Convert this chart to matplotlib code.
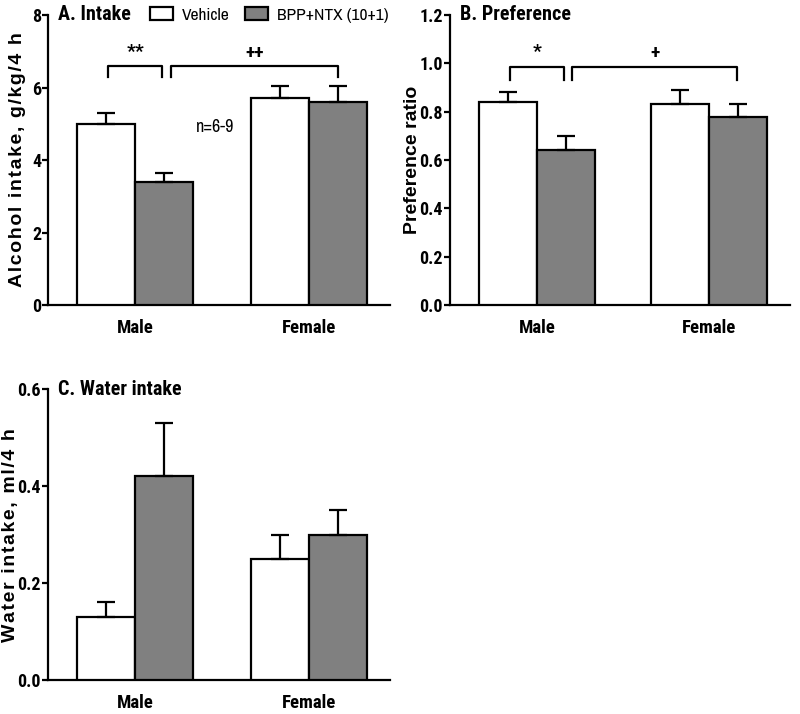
import matplotlib
matplotlib.use("Agg")
import matplotlib.pyplot as plt
from matplotlib.patches import Patch

# --- data ---
groups = ["Male", "Female"]
treatments = ["Vehicle", "BPP+NTX (10+1)"]

intake_veh = [5.0, 5.7]
intake_veh_err = [0.3, 0.33]
intake_bpp = [3.4, 5.6]
intake_bpp_err = [0.25, 0.43]

pref_veh = [0.84, 0.83]
pref_veh_err = [0.04, 0.06]
pref_bpp = [0.64, 0.78]
pref_bpp_err = [0.06, 0.05]

water_veh = [0.13, 0.25]
water_veh_err = [0.03, 0.05]
water_bpp = [0.42, 0.30]
water_bpp_err = [0.11, 0.05]

BOLD_N = ["Roboto Condensed", "DejaVu Sans"]
REG_N = ["Archivo Narrow", "DejaVu Sans"]
LAB = ["Liberation Sans", "DejaVu Sans"]
GREY = "#808080"
W = 0.335
LW = 1.6


def spaced(s):
    # the original axis titles are letter-spaced
    return "\u200a".join(s)


def bar_panel(ax, veh, veh_err, bpp, bpp_err, ymax, yticks, fmt, ylabel, title,
              lab_x, lab_size):
    x = range(len(groups))
    xv = [i - W / 2 for i in x]
    xb = [i + W / 2 for i in x]
    ekw = dict(elinewidth=LW, capthick=LW, capsize=6.5, ecolor="black")
    ax.bar(xv, veh, W, yerr=[[0] * len(veh), veh_err], color="white",
           edgecolor="black", linewidth=LW, error_kw=ekw, zorder=3)
    ax.bar(xb, bpp, W, yerr=[[0] * len(bpp), bpp_err], color=GREY,
           edgecolor="black", linewidth=LW, error_kw=ekw, zorder=3)
    ax.set_xlim(-0.505, 1.47)
    ax.set_ylim(0, ymax)
    ax.set_yticks(yticks)
    ax.set_yticklabels([fmt.format(t) for t in yticks], family=BOLD_N,
                       fontweight="bold", fontsize=13)
    ax.set_xticks(list(x))
    ax.set_xticklabels(groups, family=BOLD_N, fontweight="bold", fontsize=13.5)
    ax.tick_params(axis="x", length=0, pad=10)
    ax.tick_params(axis="y", length=4, width=LW, pad=1)
    for s in ["top", "right"]:
        ax.spines[s].set_visible(False)
    for s in ["left", "bottom"]:
        ax.spines[s].set_linewidth(LW)
    ax.set_ylabel(ylabel, family=LAB, fontweight="bold", fontsize=lab_size)
    ax.yaxis.set_label_coords(lab_x, 0.5)
    ax.text(0.03, 1.0, title, transform=ax.transAxes, family=BOLD_N,
            fontweight="bold", fontsize=14.5, va="center", ha="left")


def bracket(ax, x0, x1, y, drop, label, ty):
    ax.plot([x0, x0, x1, x1], [y - drop, y, y, y - drop], color="black", lw=LW)
    ax.text((x0 + x1) / 2, ty, label, ha="center", va="center",
            family=BOLD_N, fontweight="bold", fontsize=14)


fig = plt.figure(figsize=(8, 7.14), dpi=100)
axA = fig.add_axes([0.06, 0.5728, 0.4275, 0.4062])
axB = fig.add_axes([0.5625, 0.5728, 0.425, 0.4062])
axC = fig.add_axes([0.06, 0.0476, 0.4275, 0.4074])

bar_panel(axA, intake_veh, intake_veh_err, intake_bpp, intake_bpp_err,
          8, [0, 2, 4, 6, 8], "{:g}", spaced("Alcohol intake, g/kg/4 h"), "A. Intake",
          -0.063, 14)
bracket(axA, -0.16, 0.156, 6.59, 0.3, "**", 6.98)
bracket(axA, 0.208, 1.168, 6.59, 0.3, "++", 6.95)
axA.text(0.457, 4.91, "n=6-9", ha="center", va="center", family=REG_N, fontsize=13)
axA.legend(handles=[Patch(facecolor="white", edgecolor="black", linewidth=LW),
                    Patch(facecolor=GREY, edgecolor="black", linewidth=LW)],
           labels=treatments, ncol=2, frameon=False, loc="center left",
           bbox_to_anchor=(0.298, 1.0), prop={"family": REG_N, "size": 12.5},
           handlelength=1.35, handleheight=0.7, columnspacing=0.85, handletextpad=0.5,
           borderpad=0, borderaxespad=0)

bar_panel(axB, pref_veh, pref_veh_err, pref_bpp, pref_bpp_err,
          1.2, [0.0, 0.2, 0.4, 0.6, 0.8, 1.0, 1.2], "{:.1f}", "Preference ratio",
          "B. Preference", -0.086, 14)
bracket(axB, -0.157, 0.157, 0.985, 0.055, "*", 1.047)
bracket(axB, 0.205, 1.163, 0.985, 0.055, "+", 1.043)

bar_panel(axC, water_veh, water_veh_err, water_bpp, water_bpp_err,
          0.6, [0.0, 0.2, 0.4, 0.6], "{:.1f}", spaced("Water intake, ml/4 h"),
          "C. Water intake", -0.086, 14)

fig.savefig("out.png", dpi=100)
